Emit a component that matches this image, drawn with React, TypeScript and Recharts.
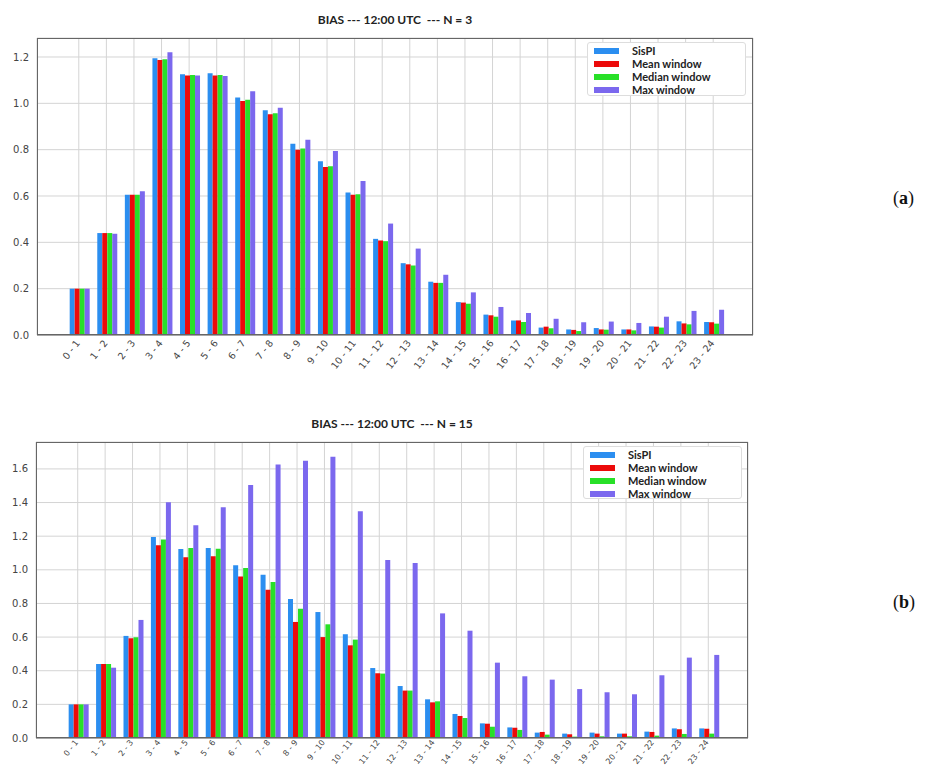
import React from 'react';
import { BarChart, Bar, XAxis, YAxis, CartesianGrid, Legend } from 'recharts';

const categories = [
  '0 - 1', '1 - 2', '2 - 3', '3 - 4', '4 - 5', '5 - 6', '6 - 7', '7 - 8', '8 - 9', '9 - 10',
  '10 - 11', '11 - 12', '12 - 13', '13 - 14', '14 - 15', '15 - 16', '16 - 17', '17 - 18',
  '18 - 19', '19 - 20', '20 - 21', '21 - 22', '22 - 23', '23 - 24',
];

// Panel (a): N = 3
const sispiA = [0.2, 0.44, 0.605, 1.195, 1.125, 1.13, 1.025, 0.97, 0.825, 0.75, 0.615, 0.415, 0.31, 0.23, 0.142, 0.088, 0.063, 0.032, 0.024, 0.03, 0.024, 0.037, 0.059, 0.056];
const meanA = [0.2, 0.44, 0.605, 1.187, 1.12, 1.12, 1.01, 0.953, 0.8, 0.725, 0.605, 0.408, 0.305, 0.225, 0.14, 0.085, 0.063, 0.036, 0.022, 0.024, 0.024, 0.036, 0.05, 0.055];
const medianA = [0.2, 0.44, 0.605, 1.19, 1.122, 1.122, 1.015, 0.957, 0.805, 0.728, 0.608, 0.405, 0.3, 0.225, 0.135, 0.079, 0.056, 0.029, 0.017, 0.023, 0.02, 0.032, 0.046, 0.049];
const maxA = [0.2, 0.437, 0.62, 1.22, 1.12, 1.118, 1.052, 0.981, 0.843, 0.794, 0.665, 0.481, 0.373, 0.26, 0.184, 0.121, 0.095, 0.07, 0.055, 0.058, 0.052, 0.079, 0.104, 0.109];

// Panel (b): N = 15
const sispiB = [0.2, 0.44, 0.607, 1.195, 1.124, 1.13, 1.027, 0.971, 0.827, 0.749, 0.617, 0.416, 0.309, 0.23, 0.143, 0.087, 0.063, 0.032, 0.026, 0.032, 0.026, 0.038, 0.057, 0.057];
const meanB = [0.2, 0.44, 0.593, 1.146, 1.075, 1.08, 0.96, 0.882, 0.69, 0.6, 0.551, 0.385, 0.282, 0.212, 0.131, 0.085, 0.061, 0.036, 0.022, 0.026, 0.026, 0.036, 0.052, 0.055];
const medianB = [0.2, 0.44, 0.599, 1.18, 1.13, 1.126, 1.011, 0.928, 0.769, 0.676, 0.585, 0.383, 0.282, 0.218, 0.119, 0.067, 0.048, 0.02, 0.008, 0.01, 0.01, 0.014, 0.024, 0.026];
const maxB = [0.2, 0.418, 0.702, 1.402, 1.265, 1.372, 1.505, 1.626, 1.648, 1.673, 1.348, 1.059, 1.041, 0.741, 0.638, 0.448, 0.367, 0.347, 0.291, 0.272, 0.26, 0.373, 0.478, 0.494];

const yTicksA = [0, 0.2, 0.4, 0.6, 0.8, 1.0, 1.2];
const yTicksB = [0, 0.2, 0.4, 0.6, 0.8, 1.0, 1.2, 1.4, 1.6];

const titleA = 'BIAS --- 12:00 UTC  --- N = 3';
const titleB = 'BIAS --- 12:00 UTC  --- N = 15';

const seriesKeys = ['sispi', 'mean', 'median', 'max'];
const seriesNames = ['SisPI', 'Mean window', 'Median window', 'Max window'];
const seriesColors = ['#2b8ef0', '#ec0a0a', '#28e028', '#7b68ee'];

function buildRows(s: number[], m: number[], md: number[], mx: number[]) {
  return categories.map((c, i) => ({ cat: c, sispi: s[i], mean: m[i], median: md[i], max: mx[i] }));
}

const dataA = buildRows(sispiA, meanA, medianA, maxA);
const dataB = buildRows(sispiB, meanB, medianB, maxB);

const makeTick = (fontSize: number, off: number) => (props: any) => {
  const { x, y, payload } = props;
  return (
    <text
      transform={`translate(${x - 1},${y + off}) rotate(-52)`}
      textAnchor="end"
      dominantBaseline="central"
      fontFamily="DejaVu Sans"
      fontSize={fontSize}
      fill="#444"
    >
      {payload.value}
    </text>
  );
};

const LegendBox = (props: any) => {
  const payload = [...(props.payload || [])].sort(
    (a: any, b: any) => seriesNames.indexOf(a.value) - seriesNames.indexOf(b.value)
  );
  return (
    <div
      style={{
        width: '100%',
        height: '100%',
        boxSizing: 'border-box',
        border: '1px solid #dddddd',
        borderRadius: 3,
        background: '#ffffff',
        paddingTop: 1,
      }}
    >
      {payload.map((p: any, i: number) => (
        <div key={i} style={{ position: 'relative', height: 13 }}>
          <div
            style={{
              position: 'absolute',
              left: 6,
              top: 4,
              width: 25,
              height: 6,
              background: p.color,
            }}
          />
          <div
            style={{
              position: 'absolute',
              left: 44,
              top: 0,
              lineHeight: '13px',
              fontFamily: 'Lato',
              fontWeight: 700,
              fontSize: 11,
              color: '#222',
              whiteSpace: 'nowrap',
            }}
          >
            {p.value}
          </div>
        </div>
      ))}
    </div>
  );
};

type PanelProps = {
  data: any[];
  top: number;
  height: number;
  margin: { top: number; right: number; left: number; bottom: number };
  xAxisHeight: number;
  yMax: number;
  yTicks: number[];
  title: string;
  legendPos: { left: number; top: number; width: number; height: number };
  xPad: { left: number; right: number };
  tickFont: number;
  tickOff: number;
};

const Y_AXIS_W = 30;
const W = 927;

function Panel(p: PanelProps) {
  const plotLeft = p.margin.left + Y_AXIS_W;
  const plotTop = p.margin.top;
  const plotW = W - p.margin.right - plotLeft;
  const plotH = p.height - p.margin.bottom - p.xAxisHeight - plotTop;
  const Tick = makeTick(p.tickFont, p.tickOff);
  return (
    <div style={{ position: 'absolute', left: 0, top: p.top, width: W, height: p.height }}>
      <div
        style={{
          position: 'absolute',
          left: plotLeft,
          width: plotW,
          top: plotTop - 26,
          textAlign: 'center',
          fontFamily: 'Lato',
          fontWeight: 700,
          fontSize: 12,
          color: '#222',
          whiteSpace: 'pre',
        }}
      >
        {p.title}
      </div>
      <BarChart
        width={W}
        height={p.height}
        data={p.data}
        margin={p.margin}
        barCategoryGap="17%"
        barGap={0}
      >
        <CartesianGrid stroke="#d4d4d4" strokeWidth={1} />
        <XAxis
          dataKey="cat"
          height={p.xAxisHeight}
          interval={0}
          tickSize={0}
          tickMargin={0}
          padding={p.xPad}
          axisLine={{ stroke: '#666' }}
          tick={<Tick />}
        />
        <YAxis
          width={Y_AXIS_W}
          domain={[0, p.yMax]}
          ticks={p.yTicks}
          allowDataOverflow
          tickSize={0}
          tickMargin={8}
          axisLine={false}
          tickFormatter={(v: number) => v.toFixed(1)}
          tick={{ fontFamily: 'DejaVu Sans', fontSize: 10, fill: '#444' }}
        />
        {seriesKeys.map((k, i) => (
          <Bar key={k} dataKey={k} name={seriesNames[i]} fill={seriesColors[i]} isAnimationActive={false} />
        ))}
        <Legend
          layout="vertical"
          align="center"
          verticalAlign="middle"
          content={<LegendBox />}
          wrapperStyle={{ ...p.legendPos, position: 'absolute' }}
        />
      </BarChart>
      <div
        style={{
          position: 'absolute',
          left: plotLeft,
          top: plotTop,
          width: plotW,
          height: plotH,
          boxSizing: 'border-box',
          border: '1px solid #666',
          pointerEvents: 'none',
        }}
      />
    </div>
  );
}

function SideLabel({ text, left, top }: { text: string; left: number; top: number }) {
  return (
    <div
      style={{
        position: 'absolute',
        left,
        top,
        fontFamily: 'Liberation Serif',
        fontSize: 18,
        color: '#111',
      }}
    >
      (<b>{text}</b>)
    </div>
  );
}

export default function App() {
  return (
    <div style={{ position: 'absolute', left: 0, top: 0, width: 927, height: 769, background: '#fff', overflow: 'hidden' }}>
      <Panel
        data={dataA}
        top={0}
        height={385}
        margin={{ top: 38, right: 174, left: 7, bottom: 5 }}
        xAxisHeight={45}
        yMax={1.282}
        yTicks={yTicksA}
        title={titleA}
        legendPos={{ left: 587, top: 42, width: 159, height: 54 }}
        xPad={{ left: 28, right: 26 }}
        tickFont={9.5}
        tickOff={6}
      />
      <Panel
        data={dataB}
        top={385}
        height={384}
        margin={{ top: 57, right: 179, left: 6, bottom: 1 }}
        xAxisHeight={30}
        yMax={1.76}
        yTicks={yTicksB}
        title={titleB}
        legendPos={{ left: 583, top: 61, width: 159, height: 53 }}
        xPad={{ left: 28, right: 26 }}
        tickFont={8}
        tickOff={3}
      />
      <SideLabel text="a" left={893} top={188} />
      <SideLabel text="b" left={893} top={592} />
    </div>
  );
}
